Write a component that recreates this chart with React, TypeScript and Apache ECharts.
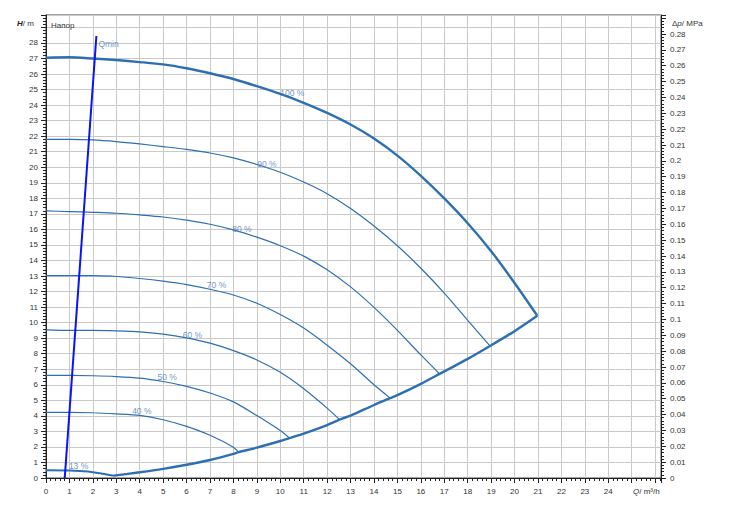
import React, { useEffect, useRef } from 'react';
import * as echarts from 'echarts';

// Q (m³/h), H (m)
const curve100 = [[0,27.05],[1,27.08],[2,27.0],[3,26.9],[4,26.77],[5,26.62],[6,26.37],[7,26.05],[8,25.68],[9,25.22],[10,24.72],[11,24.15],[12,23.5],[13,22.75],[14,21.85],[15,20.75],[16,19.45],[17,18.0],[18,16.4],[19,14.6],[20,12.55],[20.97,10.44]];
const curve90 = [[0,21.8],[1,21.8],[2,21.76],[3,21.65],[4,21.5],[5,21.33],[6,21.15],[7,20.92],[8,20.6],[9,20.18],[10,19.68],[11,19.05],[12,18.3],[13,17.35],[14,16.22],[15,14.95],[16,13.5],[17,11.9],[18,10.15],[18.95,8.5]];
const curve80 = [[0,17.19],[1,17.15],[2,17.1],[3,17.04],[4,16.93],[5,16.8],[6,16.6],[7,16.33],[8,15.97],[9,15.5],[10,14.95],[11,14.28],[12,13.4],[13,12.3],[14,10.98],[15,9.5],[16,7.92],[16.8,6.7]];
const curve70 = [[0,13.03],[1,13.03],[2,13.02],[3,12.97],[4,12.84],[5,12.67],[6,12.45],[7,12.15],[8,11.78],[9,11.25],[10,10.52],[11,9.65],[12,8.55],[13,7.35],[14,6.0],[14.69,5.14]];
const curve60 = [[0,9.54],[1,9.5],[2,9.5],[3,9.47],[4,9.41],[5,9.26],[6,9.02],[7,8.68],[8,8.2],[9,7.6],[10,6.8],[11,5.75],[12,4.5],[12.53,3.76]];
const curve50 = [[0,6.6],[1,6.6],[2,6.58],[3,6.53],[4,6.43],[5,6.21],[6,5.9],[7,5.47],[8,4.9],[9,4.02],[10,3.05],[10.39,2.57]];
const curve40 = [[0,4.22],[1,4.22],[2,4.2],[3,4.13],[4,4.03],[5,3.75],[6,3.32],[7,2.75],[8,1.98],[8.22,1.66]];
const curve13 = [[0,0.5],[1,0.49],[1.8,0.42],[2.3,0.3],[2.9,0.15]];
const envelope = [[2.9,0.15],[4,0.37],[5,0.59],[6,0.85],[7,1.16],[8,1.55],[8.22,1.66],[9,1.95],[10,2.38],[10.39,2.57],[11,2.86],[12,3.41],[12.53,3.76],[13,4.02],[14,4.7],[14.69,5.14],[15,5.33],[16,6.06],[16.8,6.7],[18,7.67],[18.95,8.5],[20,9.45],[20.97,10.44]];
const qminLine = [[0.8,0],[2.15,28.45]];

const curveLabels = ['100 %','90 %','80 %','70 %','60 %','50 %','40 %','13 %','Qmin'];
const curveLabelQ = [10.51,9.43,8.36,7.28,6.25,5.17,4.09,1.39,2.67];
const curveLabelH = [24.78,20.23,16.03,12.4,9.18,6.51,4.33,0.77,27.92];

const xMax = 26.25;
const hMax = 29.8;
const pMax = 0.292;

const FONT = 'Liberation Sans, Arial, sans-serif';
const CURVE = '#2e6fb1';
const LABEL = '#4679b5';
const AXIS = '#222';
const GRIDC = '#c9c9c9';

export default function App() {
  const ref = useRef<HTMLDivElement>(null);
  useEffect(() => {
    if (!ref.current) return;
    const chart = echarts.init(ref.current, null, { renderer: 'svg' });
    const curve = (data: number[][], width: number, smooth: number) => ({
      type: 'line', data, showSymbol: false, smooth,
      lineStyle: { color: CURVE, width }, silent: true,
    });
    const tickStyle = { color: AXIS, width: 1 };
    chart.setOption({
      animation: false,
      textStyle: { fontFamily: FONT },
      grid: { left: 46, top: 15, right: 68, bottom: 33, show: true, borderColor: '#444', borderWidth: 1, backgroundColor: '#fff' },
      xAxis: {
        type: 'value', min: 0, max: xMax, interval: 1,
        axisLine: { show: true, lineStyle: { color: AXIS } },
        axisTick: { show: true, length: 5, lineStyle: tickStyle },
        minorTick: { show: true, splitNumber: 5, length: 3, lineStyle: tickStyle },
        splitLine: { show: true, lineStyle: { color: GRIDC, width: 1 } },
        axisLabel: { fontSize: 8, color: '#333', margin: 9, fontFamily: FONT,
          formatter: (v: number) => (v <= 24 && Math.abs(v - Math.round(v)) < 1e-6 ? String(Math.round(v)) : '') },
      },
      yAxis: [
        {
          type: 'value', min: 0, max: hMax, interval: 1, position: 'left',
          axisLine: { show: true, lineStyle: { color: AXIS } },
          axisTick: { show: true, length: 5, lineStyle: tickStyle },
          minorTick: { show: true, splitNumber: 5, length: 3, lineStyle: tickStyle },
          splitLine: { show: true, lineStyle: { color: GRIDC, width: 1 } },
          axisLabel: { fontSize: 8, color: '#333', margin: 8, fontFamily: FONT,
            formatter: (v: number) => (v <= 28 && Math.abs(v - Math.round(v)) < 1e-6 ? String(Math.round(v)) : '') },
        },
        {
          type: 'value', min: 0, max: pMax, interval: 0.01, position: 'right',
          axisLine: { show: true, lineStyle: { color: AXIS } },
          axisTick: { show: true, length: 5, lineStyle: tickStyle },
          minorTick: { show: true, splitNumber: 5, length: 3, lineStyle: tickStyle },
          splitLine: { show: false },
          axisLabel: { fontSize: 8, color: '#333', margin: 9, fontFamily: FONT,
            formatter: (v: number) => (v <= 0.2805 ? String(parseFloat(v.toFixed(2))) : '') },
        },
      ],
      graphic: [
        { type: 'text', left: 17, top: 19, style: { text: '{b|H}/ m', font: `8px ${FONT}`, fill: '#333',
          rich: { b: { fontStyle: 'italic', fontWeight: 'bold', fontSize: 8, fontFamily: FONT, fill: '#222' } } } },
        { type: 'text', left: 51, top: 21, z: 10, style: { text: 'Напор', font: `8px ${FONT}`, fill: '#333' } },
        { type: 'text', left: 672, top: 19, style: { text: 'Δ{i|p}/ MPa', font: `8px ${FONT}`, fill: '#333',
          rich: { i: { fontStyle: 'italic', fontSize: 8, fontFamily: FONT, fill: '#333' } } } },
        { type: 'text', left: 633, top: 487, style: { text: '{i|Q}/ m³/h', font: `8px ${FONT}`, fill: '#333',
          rich: { i: { fontStyle: 'italic', fontSize: 8, fontFamily: FONT, fill: '#333' } } } },
      ],
      series: [
        curve(curve90, 1.2, 0.25), curve(curve80, 1.2, 0.25), curve(curve70, 1.2, 0.25),
        curve(curve60, 1.2, 0.25), curve(curve50, 1.2, 0.25), curve(curve40, 1.2, 0.25),
        curve(curve100, 2.4, 0.25),
        curve(curve13, 2, 0.15),
        curve(envelope, 2.4, 0.25),
        { type: 'line', data: qminLine, showSymbol: false, lineStyle: { color: '#0a14f5', width: 2 }, silent: true, z: 5 },
        {
          type: 'scatter', symbolSize: 1, itemStyle: { color: 'transparent' }, silent: true, z: 6,
          data: curveLabels.map((t, i) => ({ name: t, value: [curveLabelQ[i], curveLabelH[i]] })),
          label: { show: true, position: 'inside', formatter: (p: any) => p.name, fontSize: 8.5, color: LABEL, fontFamily: FONT },
        },
      ],
    });
    return () => chart.dispose();
  }, []);
  return <div ref={ref} style={{ position: 'absolute', left: 0, top: 0, width: 729, height: 511, background: '#fff' }} />;
}
